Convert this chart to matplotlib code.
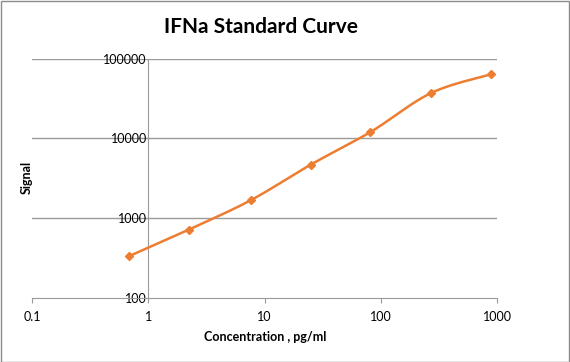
import numpy as np
import matplotlib
matplotlib.use("Agg")
import matplotlib.pyplot as plt
from matplotlib.patches import Rectangle

# Standard curve readings (concentration pg/ml vs signal)
conc = [0.68, 2.23, 7.6, 25.0, 81.5, 271, 889]
signal = [331, 714, 1670, 4680, 12000, 37100, 63700]
x_ticks = [0.1, 1, 10, 100, 1000]
x_tick_labels = ["0.1", "1", "10", "100", "1000"]
y_ticks = [100, 1000, 10000, 100000]
y_tick_labels = ["100", "1000", "10000", "100000"]

LINE_COLOR = "#ED7D31"
GRID_COLOR = "#9A9A9A"
FONT = ["Lato", "DejaVu Sans"]


def smooth_curve(xs, ys, n=30):
    """Excel-like smoothed line: Catmull-Rom through the points in log space"""
    lx = np.log10(xs)
    ly = np.log10(ys)
    P = np.column_stack([lx, ly])
    P = np.vstack([P[0], P, P[-1]])
    out = []
    for i in range(1, len(P) - 2):
        p0, p1, p2, p3 = P[i - 1], P[i], P[i + 1], P[i + 2]
        c1 = p1 + (p2 - p0) / 6.0
        c2 = p2 - (p3 - p1) / 6.0
        t = np.linspace(0, 1, n)[:, None]
        seg = ((1 - t) ** 3) * p1 + 3 * ((1 - t) ** 2) * t * c1 + 3 * (1 - t) * t ** 2 * c2 + t ** 3 * p2
        out.append(seg if i == 1 else seg[1:])
    out = np.vstack(out)
    return 10 ** out[:, 0], 10 ** out[:, 1]


fig = plt.figure(figsize=(5.7, 3.62), dpi=100)
ax = fig.add_axes([32 / 570, 64.3 / 362, 465 / 570, 239 / 362])

ax.set_xscale("log")
ax.set_yscale("log")
ax.set_xlim(0.1, 1000)
ax.set_ylim(100, 100000)

# gridlines
for yv in y_ticks[1:]:
    ax.axhline(yv, color=GRID_COLOR, linewidth=1.0, zorder=1)

sx, sy = smooth_curve(conc, signal)
ax.plot(sx, sy, color=LINE_COLOR, linewidth=1.8, zorder=3, solid_capstyle="round")
ax.plot(conc, signal, linestyle="none", marker="D", markersize=4,
        color=LINE_COLOR, zorder=4)

for s in ["top", "right"]:
    ax.spines[s].set_visible(False)
ax.spines["left"].set_position(("data", 1))
ax.spines["left"].set_color(GRID_COLOR)
ax.spines["bottom"].set_color(GRID_COLOR)
ax.spines["left"].set_zorder(1)

ax.set_xticks(x_ticks)
ax.set_xticklabels(x_tick_labels, fontsize=9, family=FONT)
ax.set_yticks(y_ticks)
ax.set_yticklabels(y_tick_labels, fontsize=9, family=FONT)
ax.minorticks_off()
ax.tick_params(axis="x", length=3.5, color=GRID_COLOR, pad=6)
ax.tick_params(axis="y", length=0, pad=1)

fig.text(261 / 570, 1 - 27 / 362, "IFNa Standard Curve", ha="center", va="center",
         fontsize=15, fontweight="bold", family=FONT)
fig.text(265 / 570, 1 - 336.7 / 362, "Concentration , pg/ml", ha="center", va="center",
         fontsize=9, fontweight="bold", family=FONT)
fig.text(27 / 570, 1 - 177 / 362, "Signal", ha="center", va="center", rotation=90,
         fontsize=9, fontweight="bold", family=FONT)

fig.patches.append(Rectangle((0.5 / 570, 0.5 / 362), 1 - 1.5 / 570, 1 - 1.5 / 362,
                             transform=fig.transFigure, fill=False,
                             edgecolor="#8C8C8C", linewidth=1.0))

plt.savefig("out.png", dpi=100)
plt.close()
